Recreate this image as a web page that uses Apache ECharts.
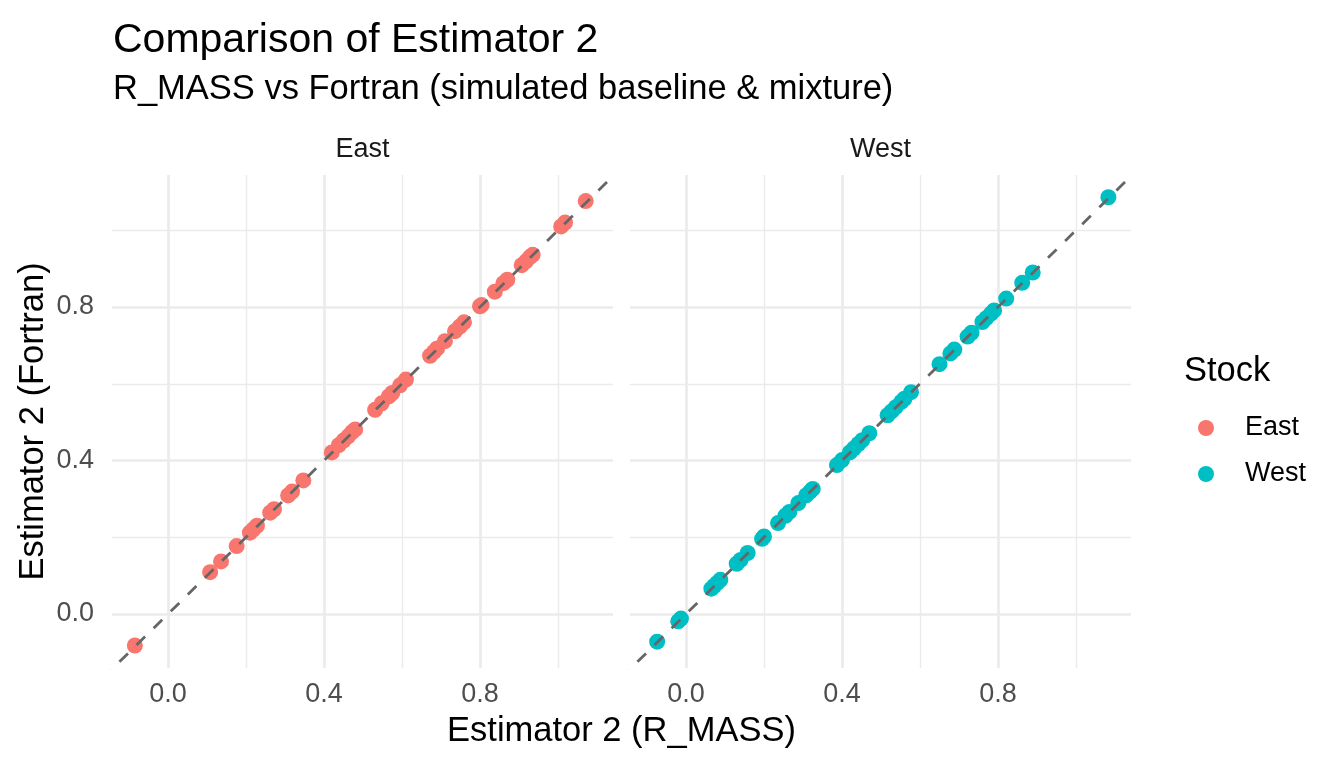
<!DOCTYPE html>
<html>
<head>
<meta charset="utf-8">
<script src="https://cdn.jsdelivr.net/npm/echarts@6/dist/echarts.min.js"></script>
<style>
html,body{margin:0;padding:0;background:#fff;}
#chart{width:1344px;height:768px;}
</style>
</head>
<body>
<div id="chart"></div>
<script>
// ---- data ----
const panels = ['East', 'West'];
const eastX = [-0.085, 0.108, 0.136, 0.176, 0.210, 0.218, 0.228, 0.262, 0.272, 0.308, 0.318, 0.347,
  0.420, 0.438, 0.450, 0.462, 0.472, 0.480, 0.531, 0.548, 0.566, 0.575, 0.595, 0.610,
  0.672, 0.682, 0.690, 0.710, 0.736, 0.748, 0.759, 0.800, 0.804, 0.838, 0.860, 0.870,
  0.907, 0.918, 0.928, 0.935, 1.008, 1.018, 1.071];
const eastY = [-0.082, 0.109, 0.137, 0.177, 0.212, 0.220, 0.230, 0.264, 0.273, 0.309, 0.319, 0.348,
  0.421, 0.440, 0.452, 0.463, 0.474, 0.481, 0.532, 0.549, 0.567, 0.576, 0.596, 0.611,
  0.673, 0.683, 0.692, 0.711, 0.737, 0.749, 0.760, 0.802, 0.805, 0.840, 0.862, 0.871,
  0.909, 0.919, 0.930, 0.936, 1.010, 1.020, 1.076];
const westX = [-0.074, -0.020, -0.013, 0.065, 0.072, 0.080, 0.088, 0.130, 0.140, 0.158, 0.195, 0.200,
  0.236, 0.255, 0.265, 0.288, 0.308, 0.318, 0.325, 0.387, 0.400, 0.420, 0.430, 0.442, 0.452,
  0.470, 0.517, 0.527, 0.538, 0.552, 0.560, 0.577, 0.650, 0.678, 0.688, 0.722, 0.732, 0.760,
  0.770, 0.782, 0.790, 0.821, 0.862, 0.889, 1.083];
const westY = [-0.072, -0.019, -0.012, 0.066, 0.073, 0.081, 0.089, 0.131, 0.141, 0.159, 0.196, 0.202,
  0.237, 0.256, 0.266, 0.289, 0.309, 0.319, 0.326, 0.388, 0.401, 0.421, 0.431, 0.443, 0.453,
  0.471, 0.518, 0.528, 0.539, 0.553, 0.561, 0.578, 0.651, 0.679, 0.689, 0.723, 0.733, 0.761,
  0.771, 0.783, 0.791, 0.822, 0.863, 0.890, 1.086];
const majorTicks = [0, 0.4, 0.8];
const minorTicks = [0.2, 0.6, 1.0];
const tickLabels = ['0.0', '0.4', '0.8'];
const identityLine = [-0.3, 1.3];
const xRange = [-0.1436, 1.141];
const yRange = [-0.1407, 1.144];
const colors = {East: '#F8766D', West: '#00BFC4'};

// ---- build ----
const FONT = "'Liberation Sans', Arial, Helvetica, sans-serif";
const chart = echarts.init(document.getElementById('chart'), null, {renderer: 'canvas'});
const grids = [
  {left: 112, top: 175, width: 501, height: 493},
  {left: 630, top: 175, width: 501, height: 493}
];
function pairs(xs, ys) { return xs.map((x, i) => [x, ys[i]]); }
const labelMap = {};
majorTicks.forEach((v, i) => { labelMap[v.toFixed(1)] = tickLabels[i]; });

const xAxes = grids.map((g, i) => ({
  gridIndex: i, type: 'value', min: xRange[0], max: xRange[1],
  axisLine: {show: false}, axisTick: {show: false}, splitLine: {show: false},
  axisLabel: {show: true, customValues: majorTicks, margin: 13, color: '#4D4D4D', fontSize: 27, fontFamily: FONT,
    formatter: v => labelMap[Number(v).toFixed(1)] || ''}
}));
const yAxes = grids.map((g, i) => ({
  gridIndex: i, type: 'value', min: yRange[0], max: yRange[1],
  axisLine: {show: false}, axisTick: {show: false}, splitLine: {show: false},
  axisLabel: {show: i === 0, customValues: majorTicks, margin: 18, color: '#4D4D4D', fontSize: 27, fontFamily: FONT,
    formatter: v => labelMap[Number(v).toFixed(1)] || ''}
}));

const series = [];
grids.forEach((g, i) => {
  const gl = [];
  majorTicks.forEach(v => {
    gl.push({xAxis: v, lineStyle: {color: '#EBEBEB', width: 2.7, type: 'solid'}});
    gl.push({yAxis: v, lineStyle: {color: '#EBEBEB', width: 2.7, type: 'solid'}});
  });
  minorTicks.forEach(v => {
    gl.push({xAxis: v, lineStyle: {color: '#EBEBEB', width: 1.4, type: 'solid'}});
    gl.push({yAxis: v, lineStyle: {color: '#EBEBEB', width: 1.4, type: 'solid'}});
  });
  series.push({
    type: 'line', name: 'grid' + i, xAxisIndex: i, yAxisIndex: i, data: [], silent: true, z: 0,
    markLine: {silent: true, symbol: 'none', z: 0, label: {show: false}, animation: false, data: gl}
  });
});
series.push({
  type: 'scatter', name: 'East', xAxisIndex: 0, yAxisIndex: 0, data: pairs(eastX, eastY),
  symbol: 'circle', symbolSize: 16, itemStyle: {color: colors.East, opacity: 1}, z: 3
});
series.push({
  type: 'scatter', name: 'West', xAxisIndex: 1, yAxisIndex: 1, data: pairs(westX, westY),
  symbol: 'circle', symbolSize: 16, itemStyle: {color: colors.West, opacity: 1}, z: 3
});
grids.forEach((g, i) => {
  series.push({
    type: 'line', name: 'identity' + i, xAxisIndex: i, yAxisIndex: i,
    data: pairs(identityLine, identityLine), symbol: 'none', clip: true, silent: true, z: 4,
    lineStyle: {color: '#666666', width: 2.8, type: [12, 12]}
  });
});

function txt(x, y, text, size, color, align, rot) {
  return {type: 'text', x: x, y: y, rotation: rot || 0, silent: true,
    style: {text: text, fontSize: size, fontFamily: FONT, fill: color, align: align || 'left', verticalAlign: 'middle'}};
}

const option = {
  backgroundColor: '#ffffff',
  animation: false,
  grid: grids,
  xAxis: xAxes,
  yAxis: yAxes,
  series: series,
  legend: {
    data: panels, orient: 'vertical', left: 1193, top: 408, icon: 'circle',
    itemWidth: 68, itemHeight: 16, itemGap: 16, selectedMode: false,
    textStyle: {fontSize: 27, fontFamily: FONT, color: '#000', lineHeight: 30}
  },
  graphic: [
    txt(113, 41, 'Comparison of Estimator 2', 41, '#000'),
    txt(113, 89, 'R_MASS vs Fortran (simulated baseline & mixture)', 34.5, '#000'),
    txt(362.5, 149.5, panels[0], 27, '#1A1A1A', 'center'),
    txt(880.5, 149.5, panels[1], 27, '#1A1A1A', 'center'),
    txt(1184, 371, 'Stock', 34.5, '#000'),
    txt(621.5, 731, 'Estimator 2 (R_MASS)', 34.5, '#000', 'center'),
    txt(33, 421.5, 'Estimator 2 (Fortran)', 34.5, '#000', 'center', Math.PI / 2)
  ]
};
chart.setOption(option);
</script>
</body>
</html>
